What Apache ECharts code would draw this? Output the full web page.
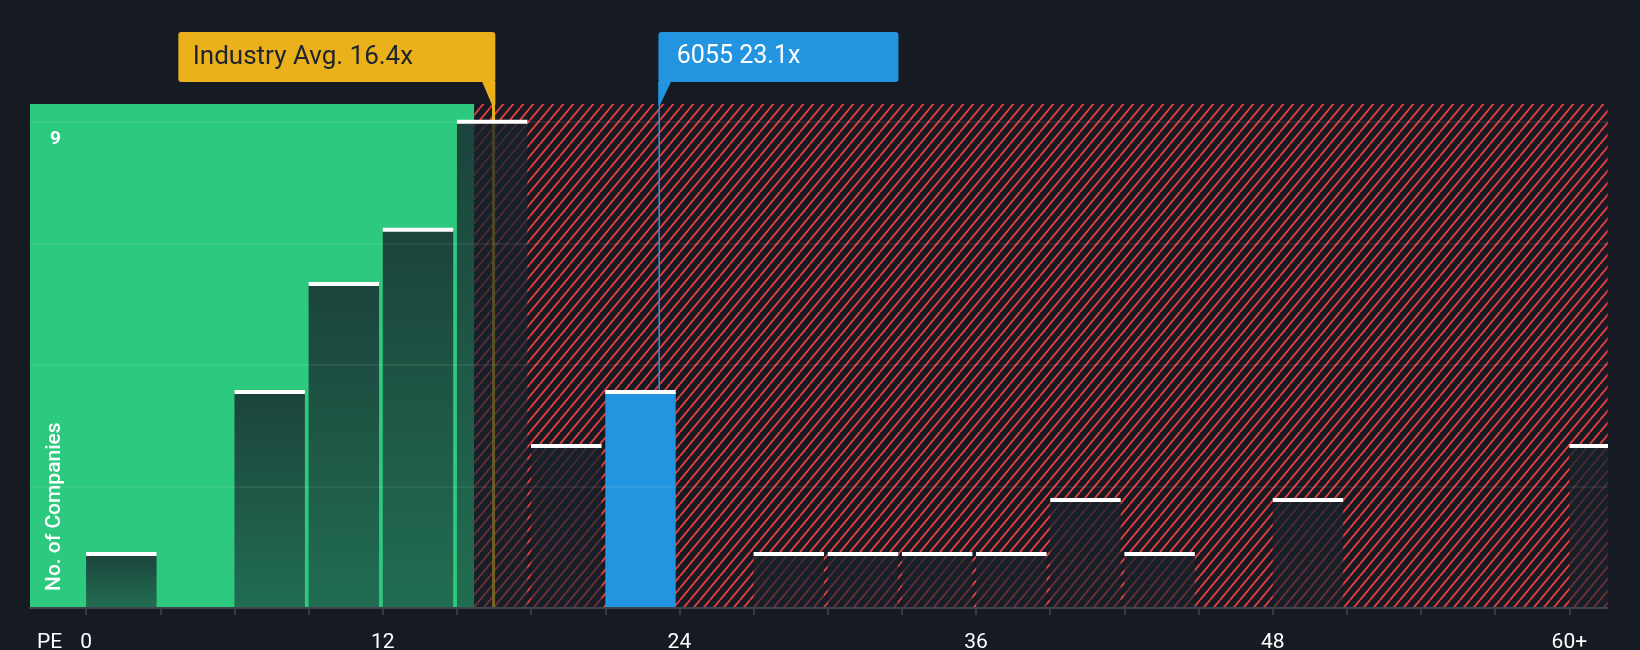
<!DOCTYPE html>
<html><head><meta charset="utf-8">
<script src="https://cdn.jsdelivr.net/npm/echarts@6/dist/echarts.min.js"></script>
<style>html,body{margin:0;padding:0;background:#151a23;}#chart{width:1640px;height:650px;}</style>
</head><body><div id="chart"></div>
<script>
// ---- data ----
const binStarts = [0,3,6,9,12,15,18,21,24,27,30,33,36,39,42,45,48,51,54,57,60];
const counts    = [1,0,4,6,7,9,3,4,0,1,1,1,1,2,1,0,2,0,0,0,3];
const highlightBinStart = 21;
const xTickValues = [0,3,6,9,12,15,18,21,24,27,30,33,36,39,42,45,48,51,54,57,60];
const xLabelValues = [0,12,24,36,48,60];
const xLabelTexts = ['0','12','24','36','48','60+'];
const industryAvg = 16.4;
const companyName = '6055';
const companyPE = 23.1;
const goodZoneEnd = 15.7;
const xMin = -2.27, xMax = 61.55, yMax = 9.33;
const yLabelShown = 9;
const barSpan = 2.85;

const BG = '#151a23';
function makeHatch(){
  const w = 10, h = 12;
  const c = document.createElement('canvas');
  c.width = w; c.height = h;
  const g = c.getContext('2d');
  g.fillStyle = BG; g.fillRect(0,0,w,h);
  g.strokeStyle = '#e53e40'; g.lineWidth = 1.9;
  g.beginPath();
  for (const k of [-w, 0, w]) { g.moveTo(k, h); g.lineTo(k + w, 0); }
  g.stroke();
  return c;
}
const hatch = makeHatch();

const zoneFrom = [xMin, goodZoneEnd];
const zoneTo = [goodZoneEnd, xMax];

const chart = echarts.init(document.getElementById('chart'));
const barData = binStarts.map((s,i)=>[s, counts[i], s===highlightBinStart?1:0]).filter(d=>d[1]>0);

chart.setOption({
  backgroundColor: BG,
  animation: false,
  grid: {left: 30, right: 32.3, top: 104, bottom: 42, containLabel: false, outerBoundsMode: 'none'},
  xAxis: {
    type: 'value', min: xMin, max: xMax, z: 5,
    axisLine: {show: true, onZero: false, lineStyle: {color: '#3f454e', width: 2}},
    axisTick: {show: true, customValues: xTickValues, length: 7, lineStyle: {color: '#3f454e', width: 1.5}},
    axisLabel: {customValues: xLabelValues, formatter: v => xLabelTexts[xLabelValues.indexOf(v)],
      color: '#ffffff', fontSize: 21, fontFamily: 'Roboto', margin: 24},
    splitLine: {show: false}
  },
  yAxis: {
    type: 'value', min: 0, max: yMax, interval: 2.25, z: 4,
    axisLine: {show: false}, axisTick: {show: false},
    splitLine: {show: true, showMinLine: false, showMaxLine: false,
      lineStyle: {color: 'rgba(255,255,255,0.09)', width: 1.5}},
    axisLabel: {inside: true, margin: 20, formatter: v => (v === yLabelShown ? String(v) : ''),
      color: '#ffffff', fontSize: 19, fontWeight: 'bold', fontFamily: 'Roboto',
      verticalAlign: 'top', padding: [8,0,0,0]}
  },
  graphic: [
    {type: 'text', left: 37, top: 632, z: 10,
      style: {text: 'PE', fill: '#ffffff', font: '21px Roboto'}},
    {type: 'text', x: 54.5, y: 591, rotation: Math.PI/2, z: 10,
      style: {text: 'No. of Companies', fill: '#ffffff', font: '500 21px Roboto',
        textAlign: 'left', textVerticalAlign: 'middle'}}
  ],
  series: [
    {
      type: 'custom', z: 1, silent: true,
      data: zoneFrom.map((f,i)=>[f, zoneTo[i], i]),
      renderItem: function(params, api){
        const p0 = api.coord([api.value(0), yMax]);
        const p1 = api.coord([api.value(1), 0]);
        const good = api.value(2) === 0;
        return {type: 'rect', shape: {x: p0[0], y: p0[1], width: p1[0]-p0[0], height: p1[1]-p0[1]},
          style: {fill: good ? '#2dc97f' : {image: hatch, repeat: 'repeat'}}};
      }
    },
    {
      type: 'custom', z: 2, silent: true,
      data: [[industryAvg, 0], [companyPE, 1]],
      renderItem: function(params, api){
        const v = api.value(0), kind = api.value(1);
        const p = api.coord([v, 0]);
        const x = p[0] + 2, yBot = p[1];
        const top = params.coordSys.y;
        const bt = top - 72, bb = top - 22;
        if (kind === 0) {
          const col = '#eab11b';
          const xr = x + 1.8, w = 317, xl = xr - w;
          return {type: 'group', children: [
            {type: 'rect', shape: {x: x - 1.5, y: bb, width: 3, height: yBot - bb}, style: {fill: col}},
            {type: 'rect', shape: {x: xl, y: bt, width: w, height: bb - bt, r: 3}, style: {fill: col}},
            {type: 'polygon', shape: {points: [[xr-13.5, bb-1], [xr, bb-1], [xr, top+1], [xr-3.3, top+1]]}, style: {fill: col}},
            {type: 'text', style: {x: xl + 14.4, y: (bt+bb)/2, text: 'Industry Avg. ' + industryAvg + 'x',
              fill: '#1d2330', font: '26px Roboto', textVerticalAlign: 'middle'}}
          ]};
        } else {
          const col = '#2394e0';
          const xl = x - 0.75, w = 240;
          return {type: 'group', children: [
            {type: 'rect', shape: {x: x - 0.75, y: bb, width: 1.5, height: yBot - bb}, style: {fill: col}},
            {type: 'rect', shape: {x: xl, y: bt, width: w, height: bb - bt, r: 3}, style: {fill: col}},
            {type: 'polygon', shape: {points: [[xl, bb-1], [xl+13, bb-1], [xl+1.5, top+1], [xl, top+1]]}, style: {fill: col}},
            {type: 'text', style: {x: xl + 18.4, y: (bt+bb)/2, text: companyName + ' ' + companyPE + 'x',
              fill: '#ffffff', font: '25px Roboto', textVerticalAlign: 'middle'}}
          ]};
        }
      }
    },
    {
      type: 'custom', z: 3, silent: true, clip: true,
      data: barData,
      renderItem: function(params, api){
        const x0 = api.value(0), v = api.value(1), hl = api.value(2);
        const tl = api.coord([x0, v]);
        const br = api.coord([x0 + barSpan, 0]);
        const w = br[0] - tl[0], h = br[1] - tl[1];
        const fill = hl ? '#2394e0' : new echarts.graphic.LinearGradient(0,0,0,1,[
          {offset: 0, color: 'rgba(23,34,43,0.8)'},
          {offset: 1, color: 'rgba(23,34,43,0.55)'}]);
        return {type: 'group', children: [
          {type: 'rect', shape: {x: tl[0], y: tl[1], width: w, height: h}, style: {fill: fill}},
          {type: 'rect', shape: {x: tl[0], y: tl[1] - 2, width: w, height: 4}, style: {fill: '#ffffff'}}
        ]};
      }
    }
  ]
});
</script>
</body></html>
